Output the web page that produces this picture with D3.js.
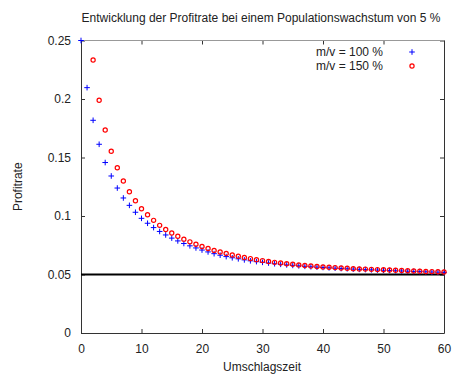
<!DOCTYPE html>
<html>
<head>
<meta charset="utf-8">
<script src="https://cdn.jsdelivr.net/npm/d3@7"></script>
<style>
    body { margin: 0; background: #fff; }
    #plot { width: 452px; height: 376px; }
    text { font-family: "Liberation Sans", Arial, sans-serif; }
</style>
</head>
<body>
<div id="plot"></div>
<script>
// chart data
const title = "Entwicklung der Profitrate bei einem Populationswachstum von 5 %";
const xLabel = "Umschlagszeit";
const yLabel = "Profitrate";
const xTicks = [0, 10, 20, 30, 40, 50, 60];
const yTicks = [0, 0.05, 0.1, 0.15, 0.2, 0.25];
const yTickLabels = ["0", "0.05", "0.1", "0.15", "0.2", "0.25"];
const populationGrowth = 0.05;

const seriesNames = ["m/v = 100 %", "m/v = 150 %"];

// m/v = 100 %, t = 0..60
const rate100 = [
    0.2500, 0.2097, 0.1818, 0.1613, 0.1457, 0.1342, 0.1239, 0.1154, 0.1091, 0.1032,
    0.0980, 0.0938, 0.0901, 0.0868, 0.0838, 0.0811, 0.0787, 0.0765, 0.0745, 0.0727,
    0.0709, 0.0693, 0.0678, 0.0665, 0.0653, 0.0643, 0.0634, 0.0625, 0.0617, 0.0610,
    0.0604, 0.0598, 0.0592, 0.0587, 0.0582, 0.0578, 0.0574, 0.0570, 0.0566, 0.0563,
    0.0560, 0.0557, 0.0554, 0.0551, 0.0549, 0.0546, 0.0544, 0.0542, 0.0540, 0.0538,
    0.0536, 0.0534, 0.0532, 0.0530, 0.0528, 0.0526, 0.0525, 0.0523, 0.0521, 0.0520,
    0.0518
];

// m/v = 150 %, t = 0..60 (first two points lie above the plot)
const rate150 = [
    null, null, 0.2333, 0.1989, 0.1735, 0.1553, 0.1413, 0.1299, 0.1207, 0.1130,
    0.1062, 0.1011, 0.0963, 0.0920, 0.0885, 0.0855, 0.0827, 0.0802, 0.0779, 0.0758,
    0.0739, 0.0722, 0.0706, 0.0692, 0.0679, 0.0667, 0.0656, 0.0645, 0.0636, 0.0627,
    0.0619, 0.0611, 0.0604, 0.0598, 0.0592, 0.0587, 0.0582, 0.0577, 0.0573, 0.0569,
    0.0565, 0.0562, 0.0559, 0.0556, 0.0553, 0.0550, 0.0548, 0.0546, 0.0544, 0.0542,
    0.0540, 0.0538, 0.0536, 0.0534, 0.0532, 0.0530, 0.0528, 0.0526, 0.0525, 0.0523,
    0.0521
];

const width = 452;
const height = 376;
const margin = { top: 40.5, right: 8, bottom: 43, left: 81 };

const svg = d3.select("#plot")
    .append("svg")
    .attr("width", width)
    .attr("height", height);

const x = d3.scaleLinear()
    .domain([0, 60])
    .range([margin.left, width - margin.right]);

const y = d3.scaleLinear()
    .domain([0, 0.25])
    .range([height - margin.bottom, margin.top]);

const tickColor = "#333";
const textColor = "#222";

// axes with inward ticks (gnuplot style)
svg.append("g")
    .attr("transform", `translate(0,${height - margin.bottom})`)
    .call(d3.axisBottom(x).tickValues(xTicks).tickFormat(d3.format("d"))
        .tickSizeInner(-4).tickSizeOuter(0).tickPadding(11))
    .call(g => g.select(".domain").remove())
    .call(g => g.selectAll("line").attr("stroke", tickColor))
    .call(g => g.selectAll("text").attr("fill", textColor).attr("font-size", 12));

svg.append("g")
    .attr("transform", `translate(${margin.left},0)`)
    .call(d3.axisLeft(y).tickValues(yTicks).tickFormat((d, i) => yTickLabels[i])
        .tickSizeInner(-4).tickSizeOuter(0).tickPadding(10))
    .call(g => g.select(".domain").remove())
    .call(g => g.selectAll("line").attr("stroke", tickColor))
    .call(g => g.selectAll("text").attr("fill", textColor).attr("font-size", 12));

// mirrored ticks on top and right
svg.append("g")
    .attr("transform", `translate(0,${margin.top})`)
    .call(d3.axisTop(x).tickValues(xTicks).tickFormat("").tickSizeInner(-4).tickSizeOuter(0))
    .call(g => g.select(".domain").remove())
    .call(g => g.selectAll("line").attr("stroke", tickColor));

svg.append("g")
    .attr("transform", `translate(${width - margin.right},0)`)
    .call(d3.axisRight(y).tickValues(yTicks).tickFormat("").tickSizeInner(-4).tickSizeOuter(0))
    .call(g => g.select(".domain").remove())
    .call(g => g.selectAll("line").attr("stroke", tickColor));

// border
const x0 = x(0) + 0.5, x1 = x(60) + 0.5, yb = y(0) + 0.5, yt = y(0.25);
svg.append("line").attr("x1", x0).attr("x2", x1).attr("y1", yb).attr("y2", yb).attr("stroke", tickColor);
svg.append("line").attr("x1", x0).attr("x2", x0).attr("y1", yt).attr("y2", yb).attr("stroke", tickColor);
svg.append("line").attr("x1", x1).attr("x2", x1).attr("y1", yt).attr("y2", yb).attr("stroke", tickColor);
svg.append("line").attr("x1", x0).attr("x2", x1).attr("y1", yt).attr("y2", yt).attr("stroke", "#999");

// population growth line
svg.append("line")
    .attr("x1", x(0)).attr("x2", x(60))
    .attr("y1", y(populationGrowth)).attr("y2", y(populationGrowth))
    .attr("stroke", "#000")
    .attr("stroke-width", 2);

// markers
const plus = (g, cx, cy, s) => g.append("path")
    .attr("d", `M${cx - s},${cy}H${cx + s}M${cx},${cy - s}V${cy + s}`)
    .attr("stroke", "#0000ff")
    .attr("stroke-width", 1)
    .attr("fill", "none");

const ring = (g, cx, cy, r) => g.append("circle")
    .attr("cx", cx).attr("cy", cy).attr("r", r)
    .attr("fill", "none")
    .attr("stroke", "#ff0000")
    .attr("stroke-width", 1.2);

const pts = svg.append("g");

rate100.forEach((v, t) => {
    if (v != null) plus(pts, x(t), y(v), 2.8);
});

rate150.forEach((v, t) => {
    if (v != null) ring(pts, x(t), y(v), 2.1);
});

// legend
const legend = svg.append("g").attr("font-size", 12).attr("fill", textColor);
legend.append("text").attr("x", 383).attr("y", 56).attr("text-anchor", "end").text(seriesNames[0]);
legend.append("text").attr("x", 383).attr("y", 70).attr("text-anchor", "end").text(seriesNames[1]);
plus(legend, 412, 52, 2.8);
ring(legend, 412, 66, 2.1);

// labels
svg.append("text")
    .attr("x", 261).attr("y", 22)
    .attr("text-anchor", "middle")
    .attr("font-size", 12)
    .attr("fill", textColor)
    .text(title);

svg.append("text")
    .attr("x", 262).attr("y", 371)
    .attr("text-anchor", "middle")
    .attr("font-size", 12)
    .attr("fill", textColor)
    .text(xLabel);

svg.append("text")
    .attr("transform", `translate(22,${(y(0) + y(0.25)) / 2}) rotate(-90)`)
    .attr("text-anchor", "middle")
    .attr("font-size", 12)
    .attr("fill", textColor)
    .text(yLabel);
</script>
</body>
</html>
